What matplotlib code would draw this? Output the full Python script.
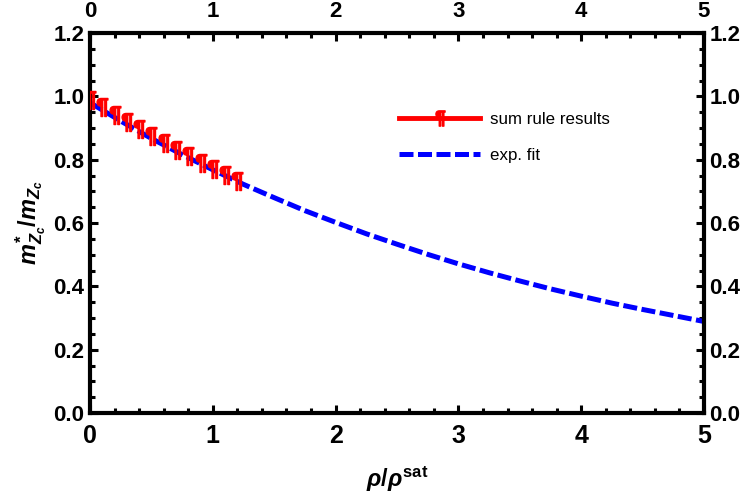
import matplotlib
matplotlib.use("Agg")
import matplotlib.pyplot as plt
from matplotlib.lines import Line2D
import numpy as np

# sum rule points
rho_pts = [0.0, 0.1, 0.2, 0.3, 0.4, 0.5, 0.6, 0.7, 0.8, 0.9, 1.0, 1.1, 1.2]
mass_pts = [0.99, 0.965, 0.942, 0.919, 0.896, 0.874, 0.852, 0.831, 0.811, 0.791, 0.771, 0.752, 0.734]
mass_err = [0.02] * 13

# exponential fit curve
rho_fit = [0.0, 0.25, 0.5, 0.75, 1.0, 1.25, 1.5, 1.75, 2.0, 2.25, 2.5, 2.75,
           3.0, 3.25, 3.5, 3.75, 4.0, 4.25, 4.5, 4.75, 5.0]
mass_fit = [0.980, 0.922, 0.867, 0.816, 0.768, 0.722, 0.680, 0.639, 0.602, 0.566, 0.533,
            0.501, 0.471, 0.443, 0.417, 0.392, 0.369, 0.347, 0.327, 0.308, 0.289]

xticks = [0, 1, 2, 3, 4, 5]
yticks = [0.0, 0.2, 0.4, 0.6, 0.8, 1.0, 1.2]

plt.rcParams["font.family"] = ["Liberation Sans", "DejaVu Sans"]
plt.rcParams["mathtext.fontset"] = "custom"
plt.rcParams["mathtext.rm"] = "Liberation Sans:bold"
plt.rcParams["mathtext.it"] = "Liberation Sans:italic:bold"
plt.rcParams["mathtext.bf"] = "Liberation Sans:bold"

fig = plt.figure(figsize=(7.47, 5.0), dpi=100)
ax = fig.add_axes([90 / 747, 1 - 413 / 500, (704 - 90) / 747, (413 - 33) / 500])

ax.plot(rho_fit, mass_fit, color="#0000ff", lw=3.6, dashes=(2.8, 0.9), zorder=2)
ax.errorbar(rho_pts, mass_pts, yerr=mass_err, fmt="none", ecolor="red", elinewidth=1.3, zorder=3)
ax.plot(rho_pts, mass_pts, ls="none", marker="$¶$", color="red", ms=13, zorder=4)

ax.set_xlim(0, 5)
ax.set_ylim(0, 1.2)
ax.set_xticks(xticks)
ax.set_yticks(yticks)
ax.set_xticks(np.arange(0, 5.01, 0.2), minor=True)
ax.set_yticks(np.arange(0, 1.201, 0.05), minor=True)
ax.set_yticklabels([f"{v:.1f}" for v in yticks])
ax.set_xticklabels([str(v) for v in xticks])

for s in ax.spines.values():
    s.set_linewidth(3)
ax.tick_params(which="both", direction="in", top=True, right=True,
               labeltop=True, labelright=True, width=2.2)
ax.tick_params(which="major", length=6)
ax.tick_params(which="minor", length=3.5)
ax.tick_params(axis="y", pad=4)
ax.xaxis.set_tick_params(which="major", pad=8)

for lab in ax.get_yticklabels():
    lab.set_fontweight("bold")
    lab.set_fontsize(16)
for tk in ax.xaxis.get_major_ticks():
    tk.label2.set_fontweight("bold")
    tk.label2.set_fontsize(16)
    # bottom labels look taller in the original
    tk.label1.set_fontweight("bold")
    tk.label1.set_fontsize(18)

ax.set_xlabel(r"$\rho/\rho^{\rm sat}$", fontsize=17, labelpad=12)
ax.set_ylabel(r"$m^{*}_{Z_c}/m_{Z_c}$", fontsize=17, labelpad=4)

handles = [
    Line2D([], [], color="red", lw=3.5, marker="$¶$", ms=11),
    Line2D([], [], color="#0000ff", lw=3.6, dashes=(2.8, 0.9)),
]
ax.legend(handles, ["sum rule results", "exp. fit"], loc="upper left",
          bbox_to_anchor=(399 / 747, 1 - 112 / 500), bbox_transform=fig.transFigure,
          frameon=False, borderpad=0, borderaxespad=0, fontsize=12.2,
          handlelength=4.8, handletextpad=0.6, labelspacing=1.25, numpoints=1)

fig.savefig("out.png", dpi=100)
